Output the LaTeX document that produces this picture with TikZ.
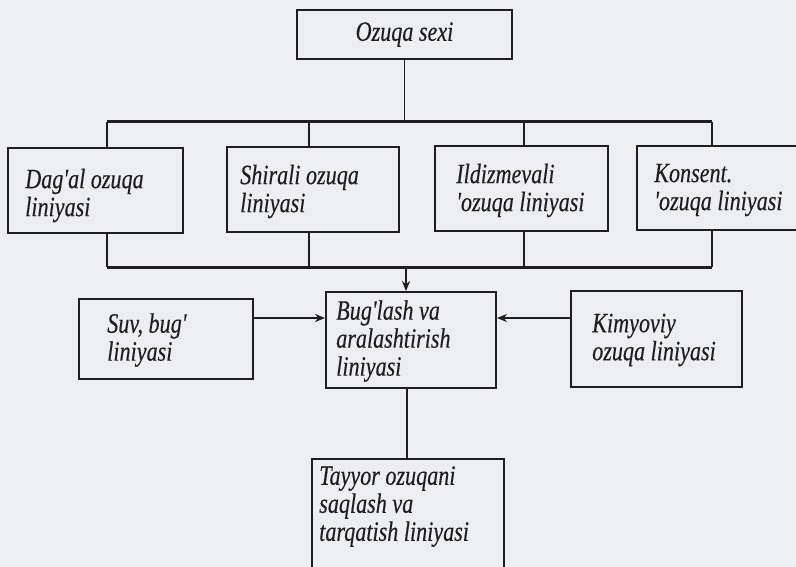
\documentclass[tikz,border=0pt]{standalone}
\usepackage{fontspec}
\newfontfamily\diafont[FakeStretch=0.79,FakeBold=0.3]{Liberation Serif}
\usetikzlibrary{arrows.meta}
\definecolor{paper}{RGB}{237,238,242}
\definecolor{ink}{RGB}{30,30,32}
\tikzset{
  box/.style={draw=ink, line width=1.9pt, inner sep=0pt},
  txtfont/.style={font=\diafont\itshape\fontsize{28}{28}\selectfont, text=ink},
  txt/.style={txtfont, align=left, inner sep=0pt, anchor=west},
  conn/.style={draw=ink, line width=1.7pt},
  busline/.style={draw=ink, line width=3pt},
  arr/.style={conn, -{Stealth[length=10pt,width=8pt]}}
}
\begin{document}
\begin{tikzpicture}[x=1pt,y=-1pt]
\fill[paper] (0,0) rectangle (796,567);
\useasboundingbox (0,0) rectangle (796,567);
\clip (0,0) rectangle (796,567);
% boxes
\node[box, txtfont, minimum width=215pt, minimum height=49pt] (top) at (404.5,34.5) {Ozuqa sexi};
\node[box, minimum width=175pt, minimum height=85pt] (b1) at (95.5,190.5) {};
\node[box, minimum width=172pt, minimum height=85pt] (b2) at (313,189.5) {};
\node[box, minimum width=173pt, minimum height=85pt] (b3) at (521.5,188.5) {};
\node[box, minimum width=173pt, minimum height=84pt] (b4) at (723.5,188) {};
\node[box, minimum width=174pt, minimum height=80pt] (suv) at (166,339) {};
\node[box, minimum width=170pt, minimum height=96pt] (bug) at (411,340) {};
\node[box, minimum width=171pt, minimum height=96pt] (kim) at (656.5,339) {};
\node[box, minimum width=192pt, minimum height=116pt] (tay) at (408,517) {};
% texts
\node[txt] (t1) at ([xshift=18pt,yshift=-5pt]b1.west) {Dag'al ozuqa\\liniyasi};
\node[txt] (t2) at ([xshift=14pt,yshift=-2pt]b2.west) {Shirali ozuqa\\liniyasi};
\node[txt] (t3) at ([xshift=22pt,yshift=-2pt]b3.west) {Ildizmevali\\'ozuqa liniyasi};
\node[txt] (t4) at ([xshift=18pt,yshift=-2pt]b4.west) {Konsent.\\'ozuqa liniyasi};
\node[txt] (ts) at ([xshift=29pt,yshift=-1pt]suv.west) {Suv, bug'\\liniyasi};
\node[txt] (tb) at ([xshift=11pt,yshift=-1pt]bug.west) {Bug'lash va\\aralashtirish\\liniyasi};
\node[txt] (tk) at ([xshift=22pt,yshift=-1pt]kim.west) {Kimyoviy\\ozuqa liniyasi};
\node[txt, anchor=north west] (tt) at ([xshift=8pt,yshift=-8pt]tay.north west) {Tayyor ozuqani\\saqlash va\\tarqatish liniyasi};
% upper bus
\coordinate (busL) at (107,122);
\coordinate (busR) at (712,122);
\draw[conn] (top.south) -- (top.south |- busL);
\draw[conn] (busL) -- (busL |- b1.north);
\draw[conn] ([xshift=-4pt]b2.north |- busL) -- ([xshift=-4pt]b2.north);
\draw[conn] ([xshift=2.5pt]b3.north |- busL) -- ([xshift=2.5pt]b3.north);
\draw[conn] (busR) -- (busR |- b4.north);
\draw[busline] (busL) -- (busR);
% lower bus
\coordinate (lbL) at (107,267);
\coordinate (lbR) at (712,267);
\draw[conn] (b1.south -| lbL) -- (lbL);
\draw[conn] ([xshift=-4pt]b2.south) -- ([xshift=-4pt]b2.south |- lbL);
\draw[conn] ([xshift=2.5pt]b3.south) -- ([xshift=2.5pt]b3.south |- lbL);
\draw[conn] (b4.south -| lbR) -- (lbR);
\draw[busline] (lbL) -- (lbR);
% arrows to mixing
\draw[arr] ([xshift=-5pt]bug.north |- lbL) -- ([xshift=-5pt]bug.north);
\draw[arr] ([yshift=21pt]suv.east) -- ([yshift=21pt]suv.east -| bug.west);
\draw[arr] ([yshift=21pt]kim.west) -- ([yshift=21pt]kim.west -| bug.east);
\draw[conn] ([xshift=-4pt]bug.south) -- ([xshift=-4pt]bug.south |- tay.north);
\end{tikzpicture}
\end{document}
